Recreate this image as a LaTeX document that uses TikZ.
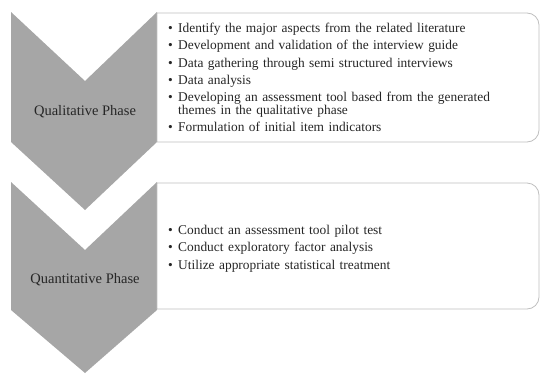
\documentclass[tikz,border=0pt]{standalone}
\usepackage{fontspec}
\setmainfont{Liberation Serif}
\definecolor{chev}{HTML}{A6A6A6}
\definecolor{boxline}{HTML}{BFBFBF}
\definecolor{ink}{HTML}{262626}
\newcommand{\bitem}[1]{\par\hangindent=10pt\hangafter=1\noindent\makebox[10pt][l]{\textbullet}#1\vspace{3.5pt}}
\begin{document}
\begin{tikzpicture}[x=1pt,y=-1pt,
  chevron/.style={fill=chev,draw=none},
  listbox/.style={draw=boxline,line width=0.8pt,fill=white},
  phase/.style={font=\fontsize{14.5}{16}\selectfont,text=ink},
  items/.style={anchor=north west,text width=362pt,align=left,inner sep=0pt,
    font=\fontsize{13.4}{13.6}\selectfont,text=ink}]
\useasboundingbox (0,0) rectangle (540,375);
% first chevron and its list
\fill[chevron] (11,12) -- (85,81) -- (157,12) -- (157,142) -- (85,210) -- (11,142) -- cycle;
\draw[listbox] (157,13) [rounded corners=12pt] -- (539,13) -- (539,142) [sharp corners] -- (157,142) -- cycle;
\node[phase] (qual) at (85,112) {Qualitative Phase};
\node[items] (qualitems) at (168,19) {%
\bitem{Identify the major aspects from the related literature}%
\bitem{Development and validation of the interview guide}%
\bitem{Data gathering through semi structured interviews}%
\bitem{Data analysis}%
\bitem{Developing an assessment tool based from the generated themes in the qualitative phase}%
\bitem{Formulation of initial item indicators}};
% second chevron and its list
\fill[chevron] (11,182) -- (85,250) -- (157,182) -- (157,310) -- (85,373) -- (11,310) -- cycle;
\draw[listbox] (157,183) [rounded corners=12pt] -- (539,183) -- (539,309) [sharp corners] -- (157,309) -- cycle;
\node[phase] (quant) at (85,280) {Quantitative Phase};
\node[items] (quantitems) at (168,221) {%
\bitem{Conduct an assessment tool pilot test}%
\bitem{Conduct exploratory factor analysis}%
\bitem{Utilize appropriate statistical treatment}};
\end{tikzpicture}
\end{document}
